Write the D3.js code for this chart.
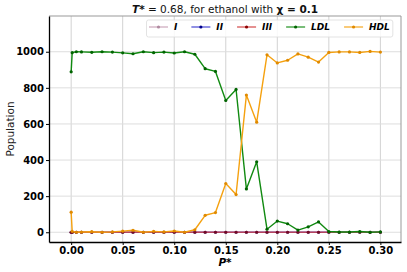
<!DOCTYPE html>
<html>
<head>
<meta charset="utf-8">
<script src="https://cdn.jsdelivr.net/npm/d3@7"></script>
<style>
  body { margin: 0; background: #fff; }
  svg { display: block; font-family: "DejaVu Sans", sans-serif; }
</style>
</head>
<body>
<div id="chart"></div>
<script>
// pressure values (P*)
const pressures = [0, 0.001, 0.005, 0.01, 0.02, 0.03, 0.04, 0.05, 0.06, 0.07, 0.08, 0.09, 0.10,
  0.11, 0.12, 0.13, 0.14, 0.15, 0.16, 0.17, 0.18, 0.19, 0.20, 0.21, 0.22, 0.23, 0.24, 0.25,
  0.26, 0.27, 0.28, 0.29, 0.30]

// populations per structure type
const popI   = pressures.map(() => 0)
const popII  = pressures.map(() => 0)
const popIII = pressures.map(() => 0)
const popLDL = [889, 995, 1000, 999, 997, 1000, 998, 994, 989, 1000, 995, 998, 993,
  1000, 986, 906, 891, 730, 791, 240, 390, 17, 62, 47, 12, 30, 57,
  4, 1, 1, 4, 0, 2]
const popHDL = [111, 5, 0, 1, 3, 0, 2, 6, 11, 0, 5, 2, 7,
  0, 14, 94, 109, 270, 209, 760, 610, 983, 938, 953, 988, 970, 943,
  996, 999, 999, 996, 1002, 998]

const xTicks = [0, 0.05, 0.10, 0.15, 0.20, 0.25, 0.30]
const yTicks = [0, 200, 400, 600, 800, 1000]

const seriesNames = ["I", "II", "III", "LDL", "HDL"]
const seriesData  = [popI, popII, popIII, popLDL, popHDL]
const lineColors  = ["#c9a3b8", "#3b3bd0", "#d23c3c", "#118a11", "#f5a10f"]
const dotColors   = ["#b08aa0", "#00008b", "#8b0000", "#006400", "#e08a00"]

const W = 407, H = 272
const m = { top: 16, right: 6, bottom: 30, left: 49 }
const w = W - m.left - m.right
const h = H - m.top - m.bottom

const svg = d3.select("#chart").append("svg")
  .attr("width", W).attr("height", H)

const g = svg.append("g").attr("transform", `translate(${m.left},${m.top})`)

const x = d3.scaleLinear().domain([-0.0215, 0.32]).range([0, w])
const y = d3.scaleLinear().domain([-54, 1198]).range([h, 0])

// grid
g.selectAll(".vgrid").data(xTicks).join("line")
  .attr("x1", d => x(d)).attr("x2", d => x(d))
  .attr("y1", 0).attr("y2", h)
  .attr("stroke", "#d2d2d2").attr("stroke-width", 1)
g.selectAll(".hgrid").data(yTicks).join("line")
  .attr("x1", 0).attr("x2", w)
  .attr("y1", d => y(d)).attr("y2", d => y(d))
  .attr("stroke", "#dedede").attr("stroke-width", 1)

// top / right frame in grey
g.append("path")
  .attr("d", `M0,0H${w}V${h}`)
  .attr("fill", "none").attr("stroke", "#999").attr("stroke-width", 1)

// axes
const xAxis = g.append("g").attr("transform", `translate(0,${h})`)
  .call(d3.axisBottom(x).tickValues(xTicks).tickFormat(d3.format(".2f"))
    .tickSize(3).tickSizeOuter(0).tickPadding(1.5))
const yAxis = g.append("g")
  .call(d3.axisLeft(y).tickValues(yTicks).tickFormat(d3.format("d"))
    .tickSize(3).tickSizeOuter(0).tickPadding(2))
;[xAxis, yAxis].forEach(a => {
  a.select(".domain").attr("stroke", "#000").attr("stroke-width", 1.3)
  a.selectAll("text").style("font-size", "10px").style("font-weight", "bold")
    .style("font-family", "DejaVu Sans").attr("fill", "#000")
})

// series
const line = d3.line().x((d, i) => x(pressures[i])).y(d => y(d))
seriesData.forEach((vals, k) => {
  const sg = g.append("g").attr("opacity", k < 3 ? 0.75 : 1)
  sg.append("path").datum(vals)
    .attr("d", line)
    .attr("fill", "none")
    .attr("stroke", lineColors[k]).attr("stroke-width", 1.4)
    .attr("stroke-linejoin", "round")
  sg.selectAll("circle").data(vals).join("circle")
    .attr("cx", (d, i) => x(pressures[i])).attr("cy", d => y(d))
    .attr("r", 1.6).attr("fill", dotColors[k])
})

// legend
const leg = g.append("g")
const legBox = leg.append("rect")
let lx = 100
seriesNames.forEach((name, k) => {
  leg.append("line").attr("x1", lx).attr("x2", lx + 19).attr("y1", 11).attr("y2", 11)
    .attr("stroke", lineColors[k]).attr("stroke-width", 1.4).attr("opacity", 0.8)
  leg.append("circle").attr("cx", lx + 9.5).attr("cy", 11).attr("r", 1.6).attr("fill", dotColors[k])
  const t = leg.append("text").attr("x", lx + 25).attr("y", 14)
    .style("font-size", "9px").style("font-weight", "bold").style("font-style", "italic")
    .text(name)
  lx += 25 + t.node().getComputedTextLength() + 14
})
legBox.attr("x", 97.5).attr("y", 4).attr("width", lx - 97.5 - 11).attr("height", 17)
  .attr("rx", 2).attr("fill", "#fff").attr("fill-opacity", 0.85)
  .attr("stroke", "#dcdcdc").attr("stroke-width", 0.8)

// title
const title = svg.append("text")
  .attr("x", m.left + w / 2).attr("y", 13)
  .attr("text-anchor", "middle")
  .style("font-size", "10.5px").attr("fill", "#111")
title.append("tspan").style("font-weight", "bold").style("font-style", "italic").text("T*")
title.append("tspan").text(" = 0.68, for ethanol with ")
title.append("tspan").style("font-weight", "bold").text("χ = 0.1")

// axis labels
svg.append("text")
  .attr("transform", `translate(14,${m.top + h / 2}) rotate(-90)`)
  .attr("text-anchor", "middle")
  .style("font-size", "10.5px").attr("fill", "#222")
  .text("Population")

svg.append("text")
  .attr("x", m.left + w / 2).attr("y", 265.5)
  .attr("text-anchor", "middle")
  .style("font-size", "10.5px").style("font-weight", "bold").style("font-style", "italic")
  .text("P*")
</script>
</body>
</html>
